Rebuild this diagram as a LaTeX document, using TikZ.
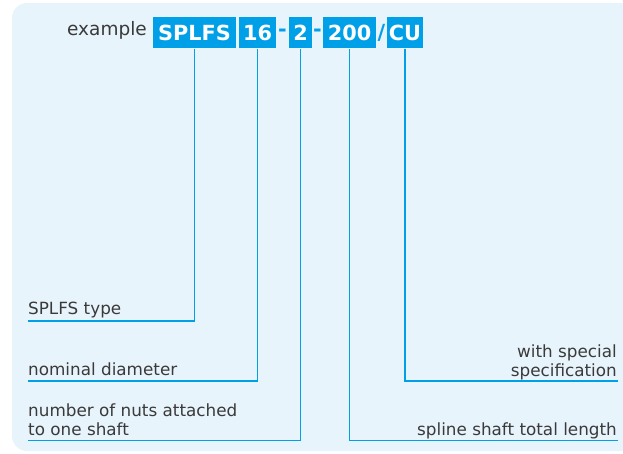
\documentclass[tikz,border=0pt]{standalone}
\usepackage{fontspec}
\setmainfont{DejaVu Sans}
\usetikzlibrary{positioning}
\definecolor{codeblue}{HTML}{00A0E9}
\definecolor{panelblue}{HTML}{E8F4FC}
\definecolor{textgray}{HTML}{3A3A3A}
\tikzset{
    code box/.style={fill=codeblue,text=white,inner sep=0pt,minimum height=31pt,
        font=\fontsize{20.8}{24}\selectfont\bfseries},
    code sep/.style={text=codeblue,inner sep=0pt,font=\fontsize{20.8}{24}\selectfont\bfseries},
    lead/.style={draw=codeblue,line width=1.2pt},
    label text/.style={text=textgray,inner sep=0pt,font=\fontsize{16.8}{19}\selectfont},
}

\begin{document}
\begin{tikzpicture}[x=1pt,y=-1pt]
    \path[use as bounding box] (0,0) rectangle (623,453);
    \fill[panelblue,rounded corners=15pt] (12,3) rectangle (680,451);

    % code line
    \node[label text,font=\fontsize{18.5}{22}\selectfont,anchor=base east] (example) at (147,35) {example};
    \node[code box,minimum width=83pt] (series) at (194.5,32.8) {SPLFS};
    \node[code box,minimum width=36.7pt] (size) at (257.7,32.8) {16};
    \node[code sep] (sepa) at (282.5,32.8) {-};
    \node[code box,minimum width=22.4pt] (nuts) at (300.5,32.8) {2};
    \node[code sep] (sepb) at (317.5,32.8) {-};
    \node[code box,minimum width=52.7pt] (length) at (349.7,32.8) {200};
    \node[code sep] (sepc) at (381.3,32.8) {/};
    \node[code box,minimum width=36.6pt] (option) at (405,32.8) {CU};

    % left labels
    \node[label text,anchor=base west] (typelabel) at (28,314) {SPLFS type};
    \coordinate (typeend) at (28,321);
    \node[label text,anchor=base west] (sizelabel) at (28,375) {nominal diameter};
    \coordinate (sizeend) at (28,381);
    \node[label text,align=left,anchor=base west] (nutslabel) at (28,435) {number of nuts attached\\to one shaft};
    \coordinate (nutsend) at (28,440.5);

    % right labels
    \node[label text,align=right,anchor=base east] (optionlabel) at (617,376) {with special\\specification};
    \coordinate (optionend) at (618,381);
    \node[label text,anchor=base east] (lengthlabel) at (617,435.5) {spline shaft total length};
    \coordinate (lengthend) at (618,440.5);

    \draw[lead] (series.south) |- (typeend);
    \draw[lead] (size.south) |- (sizeend);
    \draw[lead] (nuts.south) |- (nutsend);
    \draw[lead] (length.south) |- (lengthend);
    \draw[lead] (option.south) |- (optionend);
\end{tikzpicture}
\end{document}
